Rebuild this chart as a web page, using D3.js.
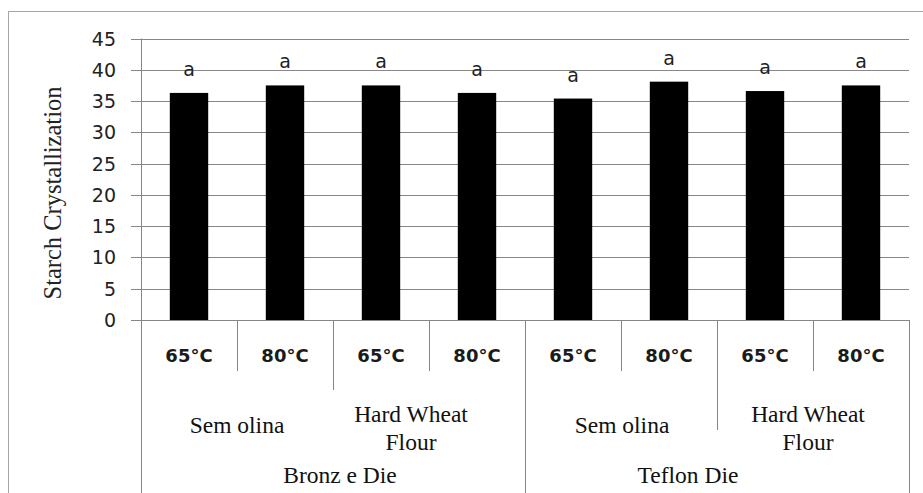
<!DOCTYPE html>
<html lang="en">
<head>
<meta charset="utf-8">
<title>Starch Crystallization</title>
<script src="https://cdn.jsdelivr.net/npm/d3@7"></script>
<style>
  body { margin: 0; background: #fff; }
  svg { display: block; }
</style>
</head>
<body>
<script>
// values
var temps    = ["65°C", "80°C", "65°C", "80°C", "65°C", "80°C", "65°C", "80°C"];
var flours   = [["Sem olina"], ["Hard Wheat", "Flour"], ["Sem olina"], ["Hard Wheat", "Flour"]];
var dies     = ["Bronz e Die", "Teflon Die"];
var values   = [36.3, 37.5, 37.5, 36.3, 35.4, 38.1, 36.6, 37.5];
var letters  = ["a", "a", "a", "a", "a", "a", "a", "a"];
var yTicks   = [0, 5, 10, 15, 20, 25, 30, 35, 40, 45];

var W = 923, H = 493;
var plotL = 141, plotR = 909, plotT = 38.5, plotB = 320;
var grey = "#878787";

var svg = d3.select("body").append("svg")
    .attr("width", W).attr("height", H);

// outer chart frame
svg.append("rect")
    .attr("x", 8.5).attr("y", 11.5)
    .attr("width", 940).attr("height", 520)
    .attr("fill", "none").attr("stroke", "#a6a6a6");

var x = d3.scaleBand().domain(d3.range(values.length)).range([plotL, plotR]).paddingInner(0.6).paddingOuter(0.3);
var slot = (plotR - plotL) / values.length;
var y = d3.scaleLinear().domain([0, 45]).range([plotB, plotT]);

// gridlines + ticks
var yAxis = d3.axisLeft(y).tickValues(yTicks).tickSize(-(plotR - plotL)).tickPadding(0).tickFormat("");
var ga = svg.append("g").attr("transform", "translate(" + plotL + ",0)").call(yAxis);
ga.select(".domain").remove();
ga.selectAll("line").attr("stroke", grey).attr("x1", -10).attr("shape-rendering", "crispEdges");

svg.append("g").selectAll("text").data(yTicks).join("text")
    .attr("x", 116).attr("y", function(d) { return y(d) + 7; })
    .attr("text-anchor", "end")
    .attr("font-family", "DejaVu Sans").attr("font-size", 19).attr("fill", "#222")
    .text(function(d) { return d; });

// y axis line
svg.append("line").attr("x1", plotL + 0.5).attr("x2", plotL + 0.5)
    .attr("y1", plotT).attr("y2", H).attr("stroke", grey);

// bars
svg.append("g").selectAll("rect").data(values).join("rect")
    .attr("x", function(d, i) { return x(i); })
    .attr("width", x.bandwidth())
    .attr("y", function(d) { return y(d); })
    .attr("height", function(d) { return y(0) - y(d); })
    .attr("fill", "#000");

svg.append("g").selectAll("text").data(values).join("text")
    .attr("x", function(d, i) { return x(i) + x.bandwidth() / 2; })
    .attr("y", function(d) { return y(d) - 17; })
    .attr("text-anchor", "middle")
    .attr("font-family", "DejaVu Sans").attr("font-size", 19).attr("fill", "#222")
    .text(function(d, i) { return letters[i]; });

// category axis: separators
var edge = function(i) { return plotL + i * slot; };
var seps = [
  {i: 1, y2: 371}, {i: 3, y2: 371}, {i: 5, y2: 371}, {i: 7, y2: 371},
  {i: 2, y2: 390}, {i: 6, y2: 430},
  {i: 4, y2: H}, {i: 8, y2: H}
];
svg.append("g").selectAll("line").data(seps).join("line")
    .attr("x1", function(d) { return Math.round(edge(d.i)) + 0.5; })
    .attr("x2", function(d) { return Math.round(edge(d.i)) + 0.5; })
    .attr("y1", plotB).attr("y2", function(d) { return d.y2; })
    .attr("stroke", grey);

// level 1: temperature
svg.append("g").selectAll("text").data(temps).join("text")
    .attr("x", function(d, i) { return edge(i) + slot / 2; })
    .attr("y", 362)
    .attr("text-anchor", "middle")
    .attr("font-family", "DejaVu Sans").attr("font-weight", "bold")
    .attr("font-size", 18).attr("fill", "#1a1a1a")
    .text(function(d) { return d; });

// level 2: flour
var flourNudge = [0, -18, 1, -5];
var serif = "Liberation Serif, Times New Roman, serif";
flours.forEach(function(lines, k) {
  var cx = edge(k * 2) + slot + flourNudge[k];
  var t = svg.append("text")
      .attr("text-anchor", "middle")
      .attr("font-family", serif).attr("font-size", 23.5).attr("fill", "#111");
  if (lines.length === 1) {
    t.append("tspan").attr("x", cx).attr("y", 433).text(lines[0]);
  } else {
    t.append("tspan").attr("x", cx).attr("y", 422).text(lines[0]);
    t.append("tspan").attr("x", cx).attr("y", 450).text(lines[1]);
  }
});

// level 3: die
var dieNudge = [7, -29];
svg.append("g").selectAll("text").data(dies).join("text")
    .attr("x", function(d, k) { return edge(k * 4) + slot * 2 + dieNudge[k]; })
    .attr("y", 483)
    .attr("text-anchor", "middle")
    .attr("font-family", serif).attr("font-size", 23.5).attr("fill", "#111")
    .text(function(d) { return d; });

// y title
svg.append("text")
    .attr("transform", "translate(61," + 193 + ") rotate(-90)")
    .attr("text-anchor", "middle")
    .attr("font-family", serif).attr("font-size", 24.5).attr("fill", "#222")
    .text("Starch Crystallization");
</script>
</body>
</html>
